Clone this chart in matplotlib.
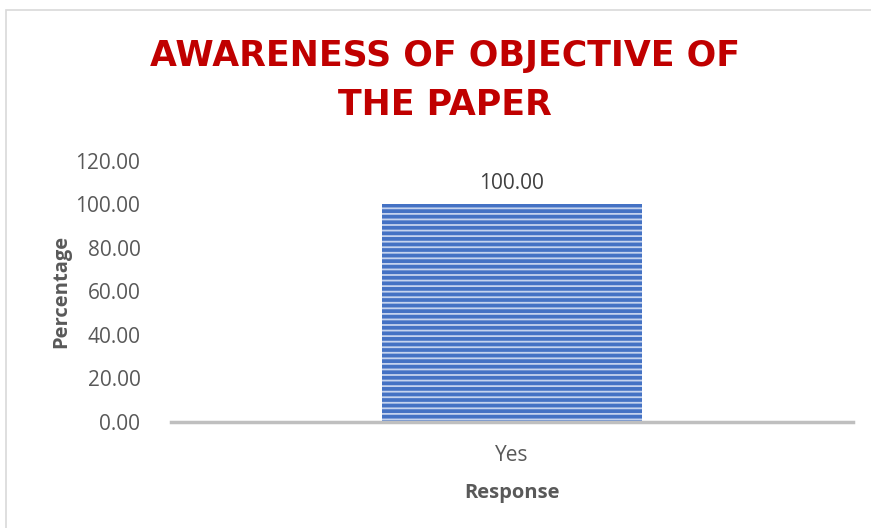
import matplotlib.pyplot as plt
from matplotlib.patches import Rectangle

# --- datos ---
categories = ["Yes"]
percentages = [100.00]
y_ticks = [0, 20, 40, 60, 80, 100, 120]

title = "AWARENESS OF OBJECTIVE OF\nTHE PAPER"

plt.rcParams['font.family'] = ['Open Sans', 'DejaVu Sans']
plt.rcParams['hatch.linewidth'] = 1.3

fig = plt.figure(figsize=(8.71, 5.28), dpi=100)
ax = fig.add_axes([0.1963, 0.2017, 0.783, 0.4933])

# marco gris del gráfico
fig.add_artist(Rectangle((6 / 871, -0.05), 1.1, 1.05 - 10 / 528, transform=fig.transFigure,
                         fill=False, edgecolor='#D9D9D9', linewidth=1.2))

bars = ax.bar(categories, percentages, width=0.38, color='#4472C4',
              edgecolor='#C5D3EE', hatch='---', linewidth=0)

for b, v in zip(bars, percentages):
    ax.text(b.get_x() + b.get_width() / 2, v + 5, f"{v:.2f}", ha='center', va='bottom',
            fontsize=15, color='#404040')

ax.set_xlim(-0.5, 0.5)
ax.set_ylim(0, 120)
ax.set_yticks(y_ticks)
ax.set_yticklabels([f"{t:.2f}" for t in y_ticks])

for s in ['top', 'right', 'left']:
    ax.spines[s].set_visible(False)
ax.spines['bottom'].set_color('#BFBFBF')
ax.spines['bottom'].set_linewidth(2.5)

ax.tick_params(axis='y', length=0, pad=22, labelsize=15, labelcolor='#595959')
ax.tick_params(axis='x', length=0, pad=17, labelsize=15, labelcolor='#595959')

ax.set_ylabel("Percentage", fontsize=14.5, fontweight='bold', color='#595959', labelpad=3)
ax.set_xlabel("Response", fontsize=14.5, fontweight='bold', color='#595959', labelpad=12)

fig.text(0.511, 0.848, title, ha='center', va='center', fontsize=25, fontweight='bold',
         color='#C00000', linespacing=1.55, family='DejaVu Sans')

fig.savefig("out.png", dpi=100)
